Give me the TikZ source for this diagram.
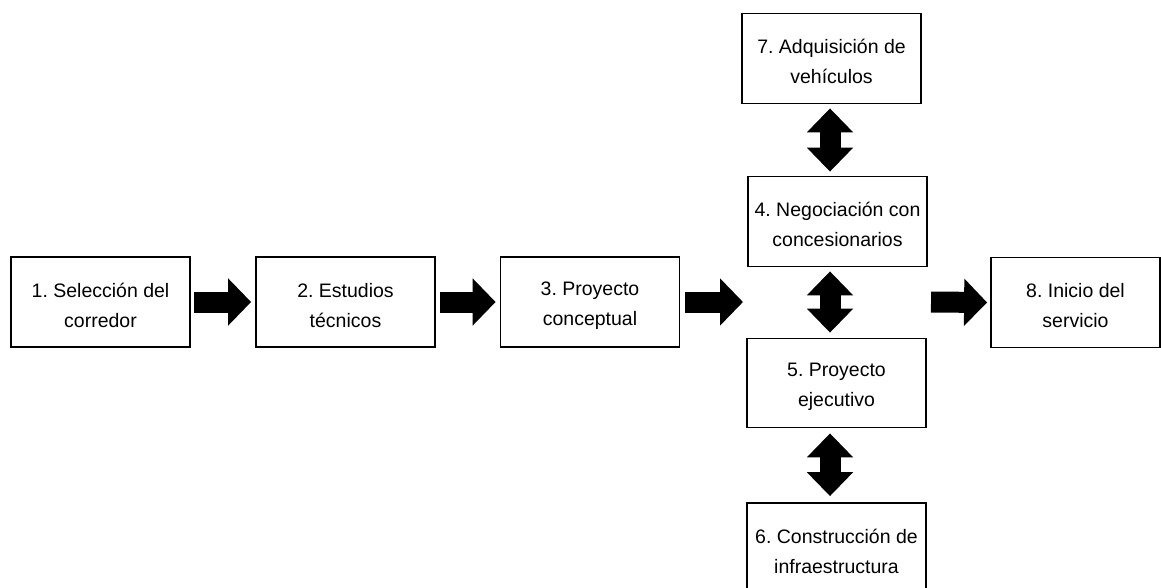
\documentclass[tikz,border=0pt]{standalone}
\usepackage{fontspec}
\setmainfont{Liberation Sans}
\usetikzlibrary{arrows.meta,calc}
\newcommand\topstrut{\rule{0pt}{21pt}}
\begin{document}
\frenchspacing
\begin{tikzpicture}[x=1pt,y=-1pt,
  stepbox/.style={draw=black, line width=1.8pt, fill=white, minimum width=179pt, minimum height=90pt,
    inner sep=0pt, align=center, font=\fontsize{19.5}{30}\selectfont},
  fatarrow/.style={line width=21pt, draw=black, -{Triangle[length=23pt,width=46pt]}},
  dblarrow/.style={line width=21pt, draw=black, {Triangle[length=24pt,width=45pt]}-{Triangle[length=24pt,width=45pt]}}]
\useasboundingbox (0,0) rectangle (1161,588);
\begin{scope}
\clip (0,0) rectangle (1161,588);
\node[stepbox] (b1) at (100.5,302) {\topstrut 1. Selección del\\corredor};
\node[stepbox] (b2) at (345.5,302) {\topstrut 2. Estudios\\técnicos};
\node[stepbox] (b3) at (590,302) {\topstrut 3. Proyecto\\conceptual};
\node[stepbox] (b7) at (831.5,58.5) {\topstrut 7. Adquisición de\\vehículos};
\node[stepbox] (b4) at (837.5,221.5) {\topstrut 4. Negociación con\\concesionarios};
\node[stepbox, minimum height=89pt] (b5) at (836.5,383) {\topstrut 5. Proyecto\\ejecutivo};
\node[stepbox] (b6) at (836.5,548) {\topstrut 6. Construcción de\\infraestructura};
\node[stepbox, minimum width=169pt] (b8) at (1075.5,302.5) {\topstrut 8. Inicio del\\servicio};
\coordinate (ax) at (830,0);
\coordinate (c3end) at (743,302);
\coordinate (c4start) at (931,302);
\draw[fatarrow] ($(b1.east)+(3,0)$) -- ($(b2.west)+(-4,0)$);
\draw[fatarrow] ($(b2.east)+(4,0)$) -- ($(b3.west)+(-4,0)$);
\draw[fatarrow] ($(b3.east)+(5,0)$) -- (c3end);
\draw[fatarrow] (c4start) -- ($(b8.west)+(-3,0)$);
\draw[dblarrow] ($(b7.south -| ax)+(0,4)$) -- ($(b4.north -| ax)+(0,-4)$);
\draw[dblarrow] ($(b4.south -| ax)+(0,4)$) -- ($(b5.north -| ax)+(0,-5)$);
\draw[dblarrow] ($(b5.south -| ax)+(0,5)$) -- ($(b6.north -| ax)+(0,-6)$);
\end{scope}
\end{tikzpicture}
\end{document}
